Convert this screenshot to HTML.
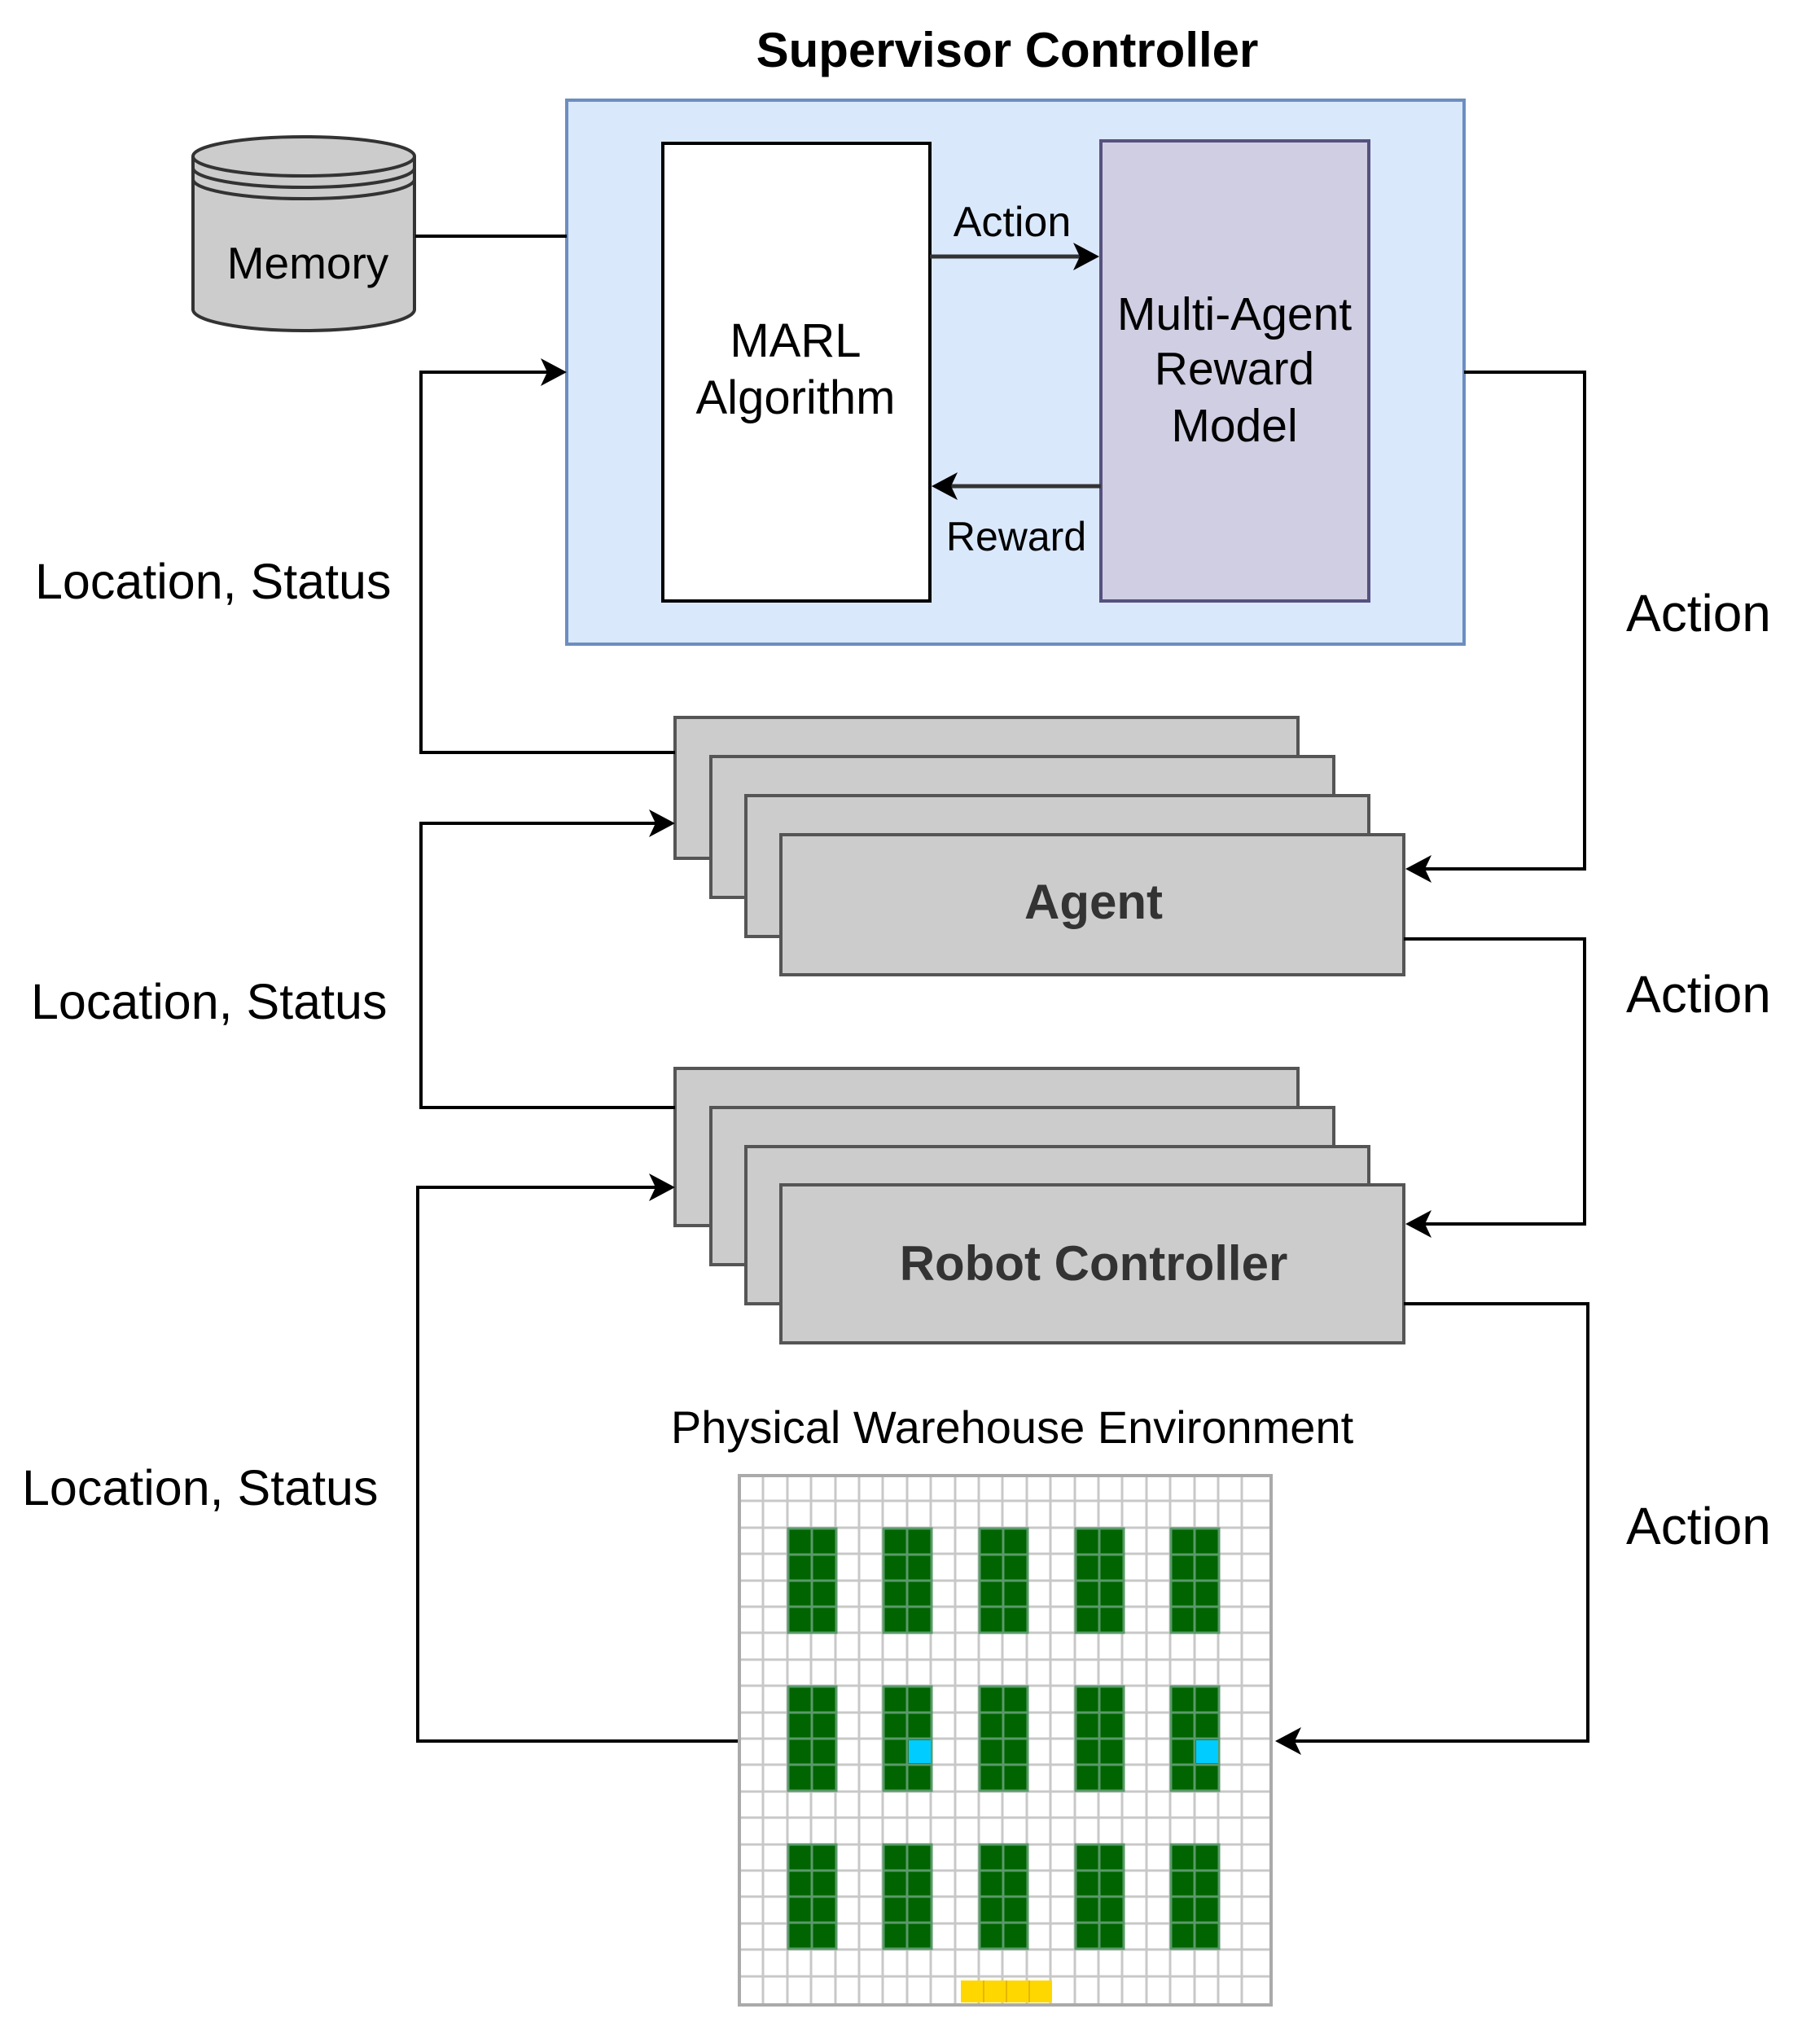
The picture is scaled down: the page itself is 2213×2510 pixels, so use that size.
<!DOCTYPE html>
<html><head><meta charset="utf-8"><style>
html,body{margin:0;padding:0;background:#fff;}
svg{display:block;}
text{font-family:"Liberation Sans",sans-serif;}
</style></head><body>
<svg width="2213" height="2510" viewBox="0 0 2213 2510" xmlns="http://www.w3.org/2000/svg">
<!-- title -->
<text x="1237" y="82" font-size="60" font-weight="bold" text-anchor="middle">Supervisor Controller</text>
<!-- blue box -->
<rect x="696" y="123" width="1102" height="668" fill="#dae8fc" stroke="#6c8ebf" stroke-width="4"/>
<rect x="814" y="176" width="328" height="562" fill="#fff" stroke="#000" stroke-width="4"/>
<rect x="1352" y="173" width="329" height="565" fill="#d0cee2" stroke="#56517e" stroke-width="4"/>
<text x="977" y="438" font-size="58" text-anchor="middle">MARL</text>
<text x="977" y="508" font-size="58" text-anchor="middle">Algorithm</text>
<text x="1516" y="405" font-size="57" text-anchor="middle">Multi-Agent</text>
<text x="1516" y="472" font-size="57" text-anchor="middle">Reward</text>
<text x="1516" y="542" font-size="57" text-anchor="middle">Model</text>
<!-- internal arrows -->
<line x1="1142" y1="315" x2="1330" y2="315" stroke="#333" stroke-width="5"/>
<path d="M1350,315 L1318,298 L1326,315 L1318,332 Z" fill="#000"/>
<text x="1243" y="290" font-size="52" text-anchor="middle">Action</text>
<line x1="1352" y1="597" x2="1162" y2="597" stroke="#333" stroke-width="5"/>
<path d="M1144,597 L1176,580 L1168,597 L1176,614 Z" fill="#000"/>
<text x="1248" y="676" font-size="50" text-anchor="middle">Reward</text>
<!-- memory -->
<path d="M237,192 L237,380 A136,26 0 0 0 509,380 L509,192" fill="#ccc" stroke="#333" stroke-width="4"/>
<ellipse cx="373" cy="192" rx="136" ry="24" fill="#ccc" stroke="#333" stroke-width="4"/>
<path d="M237,206 A136,24 0 0 0 509,206 M237,220 A136,24 0 0 0 509,220" fill="none" stroke="#333" stroke-width="4"/>
<text x="378" y="342" font-size="55" text-anchor="middle">Memory</text>
<line x1="510" y1="290" x2="696" y2="290" stroke="#000" stroke-width="4"/>
<!-- stacks -->
<g fill="#ccc" stroke="#555" stroke-width="4">
<rect x="829" y="881" width="765" height="173"/>
<rect x="873" y="929" width="765" height="173"/>
<rect x="916" y="977" width="765" height="173"/>
<rect x="959" y="1025" width="765" height="172"/>
<rect x="829" y="1312" width="765" height="193"/>
<rect x="873" y="1360" width="765" height="193"/>
<rect x="916" y="1408" width="765" height="193"/>
<rect x="959" y="1455" width="765" height="194"/>
</g>
<text x="1343" y="1128" font-size="60" font-weight="bold" fill="#333" text-anchor="middle">Agent</text>
<text x="1343" y="1572" font-size="60" font-weight="bold" fill="#333" text-anchor="middle">Robot Controller</text>
<!-- connectors -->
<g fill="none" stroke="#000" stroke-width="4">
<polyline points="829,924 517,924 517,457 680,457"/>
<polyline points="1798,457 1946,457 1946,1067 1742,1067"/>
<polyline points="829,1360 517,1360 517,1011 812,1011"/>
<polyline points="1724,1153 1946,1153 1946,1503 1742,1503"/>
<polyline points="908,2138 513,2138 513,1458 812,1458"/>
<polyline points="1724,1601 1950,1601 1950,2138 1582,2138"/>
</g>
<g fill="#000">
<path d="M696,457 L664,440 L672,457 L664,474 Z"/>
<path d="M829,1011 L797,994 L805,1011 L797,1028 Z"/>
<path d="M829,1458 L797,1441 L805,1458 L797,1475 Z"/>
<path d="M1726,1067 L1758,1050 L1750,1067 L1758,1084 Z"/>
<path d="M1726,1503 L1758,1486 L1750,1503 L1758,1520 Z"/>
<path d="M1566,2138 L1598,2121 L1590,2138 L1598,2155 Z"/>
</g>
<!-- labels -->
<g font-size="61">
<text x="43" y="735">Location, Status</text>
<text x="38" y="1251">Location, Status</text>
<text x="27" y="1848">Location, Status</text>
</g>
<g font-size="64">
<text x="1997" y="775">Action</text>
<text x="1997" y="1243">Action</text>
<text x="1997" y="1896">Action</text>
</g>
<text x="1243" y="1772" font-size="56" text-anchor="middle">Physical Warehouse Environment</text>
<!-- grid -->
<g>
<rect x="908" y="1812" width="653" height="650" fill="#fff"/>
<g stroke="#c8c8c8" stroke-width="3">
<line x1="937" y1="1812" x2="937" y2="2462"/><line x1="967" y1="1812" x2="967" y2="2462"/><line x1="996" y1="1812" x2="996" y2="2462"/><line x1="1026" y1="1812" x2="1026" y2="2462"/><line x1="1055" y1="1812" x2="1055" y2="2462"/><line x1="1084" y1="1812" x2="1084" y2="2462"/><line x1="1114" y1="1812" x2="1114" y2="2462"/><line x1="1143" y1="1812" x2="1143" y2="2462"/><line x1="1173" y1="1812" x2="1173" y2="2462"/><line x1="1202" y1="1812" x2="1202" y2="2462"/><line x1="1231" y1="1812" x2="1231" y2="2462"/><line x1="1261" y1="1812" x2="1261" y2="2462"/><line x1="1290" y1="1812" x2="1290" y2="2462"/><line x1="1320" y1="1812" x2="1320" y2="2462"/><line x1="1349" y1="1812" x2="1349" y2="2462"/><line x1="1378" y1="1812" x2="1378" y2="2462"/><line x1="1408" y1="1812" x2="1408" y2="2462"/><line x1="1437" y1="1812" x2="1437" y2="2462"/><line x1="1467" y1="1812" x2="1467" y2="2462"/><line x1="1496" y1="1812" x2="1496" y2="2462"/><line x1="1525" y1="1812" x2="1525" y2="2462"/>
<line x1="908" y1="1843" x2="1561" y2="1843"/><line x1="908" y1="1876" x2="1561" y2="1876"/><line x1="908" y1="1908" x2="1561" y2="1908"/><line x1="908" y1="1941" x2="1561" y2="1941"/><line x1="908" y1="1973" x2="1561" y2="1973"/><line x1="908" y1="2005" x2="1561" y2="2005"/><line x1="908" y1="2038" x2="1561" y2="2038"/><line x1="908" y1="2070" x2="1561" y2="2070"/><line x1="908" y1="2103" x2="1561" y2="2103"/><line x1="908" y1="2135" x2="1561" y2="2135"/><line x1="908" y1="2167" x2="1561" y2="2167"/><line x1="908" y1="2200" x2="1561" y2="2200"/><line x1="908" y1="2232" x2="1561" y2="2232"/><line x1="908" y1="2265" x2="1561" y2="2265"/><line x1="908" y1="2297" x2="1561" y2="2297"/><line x1="908" y1="2329" x2="1561" y2="2329"/><line x1="908" y1="2362" x2="1561" y2="2362"/><line x1="908" y1="2394" x2="1561" y2="2394"/><line x1="908" y1="2427" x2="1561" y2="2427"/>
</g>
<rect x="908" y="1812" width="653" height="650" fill="none" stroke="#aaa" stroke-width="4"/>
<g fill="#006400" stroke="#5a9a6a" stroke-width="3">
<rect x="968" y="1877" width="59" height="128"/><rect x="1085" y="1877" width="59" height="128"/><rect x="1203" y="1877" width="59" height="128"/><rect x="1321" y="1877" width="59" height="128"/><rect x="1438" y="1877" width="59" height="128"/>
<rect x="968" y="2071" width="59" height="128"/><rect x="1085" y="2071" width="59" height="128"/><rect x="1203" y="2071" width="59" height="128"/><rect x="1321" y="2071" width="59" height="128"/><rect x="1438" y="2071" width="59" height="128"/>
<rect x="968" y="2265" width="59" height="128"/><rect x="1085" y="2265" width="59" height="128"/><rect x="1203" y="2265" width="59" height="128"/><rect x="1321" y="2265" width="59" height="128"/><rect x="1438" y="2265" width="59" height="128"/>
</g>
<g stroke="#5a9a6a" stroke-width="3" fill="none">
<line x1="997" y1="1877" x2="997" y2="2005"/><line x1="1114" y1="1877" x2="1114" y2="2005"/><line x1="1232" y1="1877" x2="1232" y2="2005"/><line x1="1350" y1="1877" x2="1350" y2="2005"/><line x1="1467" y1="1877" x2="1467" y2="2005"/>
<line x1="997" y1="2071" x2="997" y2="2199"/><line x1="1114" y1="2071" x2="1114" y2="2199"/><line x1="1232" y1="2071" x2="1232" y2="2199"/><line x1="1350" y1="2071" x2="1350" y2="2199"/><line x1="1467" y1="2071" x2="1467" y2="2199"/>
<line x1="997" y1="2265" x2="997" y2="2393"/><line x1="1114" y1="2265" x2="1114" y2="2393"/><line x1="1232" y1="2265" x2="1232" y2="2393"/><line x1="1350" y1="2265" x2="1350" y2="2393"/><line x1="1467" y1="2265" x2="1467" y2="2393"/>
<path d="M968,1909h59m-59,32h59m-59,32h59 M1085,1909h59m-59,32h59m-59,32h59 M1203,1909h59m-59,32h59m-59,32h59 M1321,1909h59m-59,32h59m-59,32h59 M1438,1909h59m-59,32h59m-59,32h59"/>
<path d="M968,2103h59m-59,32h59m-59,32h59 M1085,2103h59m-59,32h59m-59,32h59 M1203,2103h59m-59,32h59m-59,32h59 M1321,2103h59m-59,32h59m-59,32h59 M1438,2103h59m-59,32h59m-59,32h59"/>
<path d="M968,2297h59m-59,32h59m-59,32h59 M1085,2297h59m-59,32h59m-59,32h59 M1203,2297h59m-59,32h59m-59,32h59 M1321,2297h59m-59,32h59m-59,32h59 M1438,2297h59m-59,32h59m-59,32h59"/>
</g>
<rect x="1116" y="2137" width="27" height="28" fill="#00ccff"/>
<rect x="1469" y="2137" width="27" height="28" fill="#00ccff"/>
<rect x="1180" y="2432" width="112" height="27" fill="#ffd700"/>
<g stroke="#e6b800" stroke-width="2"><line x1="1208" y1="2432" x2="1208" y2="2459"/><line x1="1236" y1="2432" x2="1236" y2="2459"/><line x1="1264" y1="2432" x2="1264" y2="2459"/></g>
</g>
</svg>
</body></html>
